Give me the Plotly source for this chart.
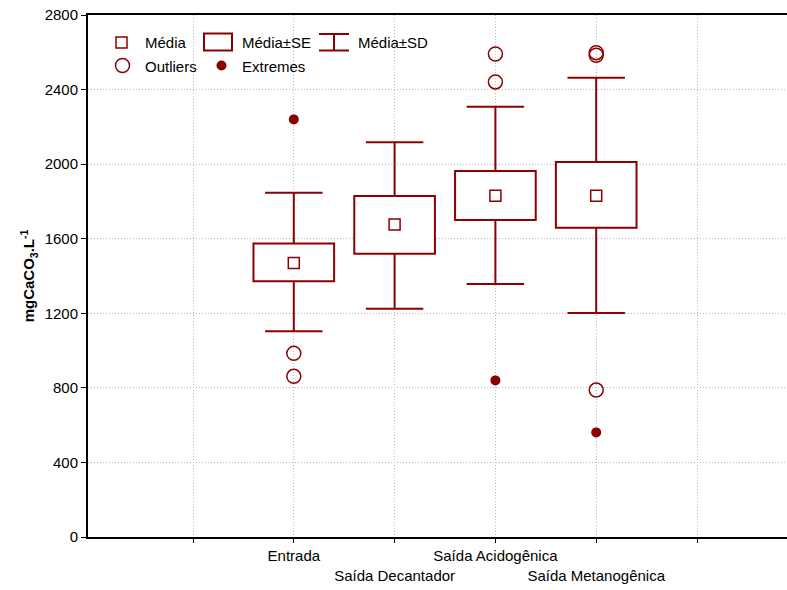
import plotly.graph_objects as go

# Alkalinity summary per sampling point (mg CaCO3/L)
categories = ["Entrada", "Saída Decantador", "Saída Acidogênica", "Saída Metanogênica"]
cat_pos = [2, 3, 4, 5]
mean_vals = [1470, 1676, 1831, 1831]
se_low = [1372, 1520, 1700, 1659]
se_high = [1575, 1829, 1963, 2011]
sd_low = [1103, 1225, 1357, 1201]
sd_high = [1847, 2117, 2308, 2464]

outlier_pos = [2, 2, 4, 4, 5, 5, 5]
outlier_vals = [985, 862, 2591, 2441, 2598, 2584, 788]
extreme_pos = [2, 4, 5]
extreme_vals = [2240, 840, 561]

y_ticks = [0, 400, 800, 1200, 1600, 2000, 2400, 2800]
x_ticks = [1, 2, 3, 4, 5, 6]

RED = "#8B0000"
FONT = "Liberation Sans, Arial, sans-serif"
BOX_HALF = 0.4      # half box width, x units
CAP_HALF = 0.285    # half whisker cap width, x units

W, H = 787, 590
ML, MR, MT, MB = 88, 0, 15, 53
PW, PH = W - ML - MR, H - MT - MB


def px(xp):
    return (xp - ML) / PW


def py(yp):
    return (H - MB - yp) / PH


# tick labels alternate between two rows
tick_text = [""]
for i, c in enumerate(categories):
    tick_text.append(c if i % 2 == 0 else "<br>" + c)
tick_text.append("")

fig = go.Figure()

fig.add_trace(go.Scatter(
    x=cat_pos, y=mean_vals, mode="markers", showlegend=False,
    marker=dict(symbol="square-open", size=11, color=RED,
                line=dict(color=RED, width=1.5)),
))

fig.add_trace(go.Scatter(
    x=outlier_pos, y=outlier_vals, mode="markers", showlegend=False,
    marker=dict(symbol="circle-open", size=14, color=RED,
                line=dict(color=RED, width=1.5)),
))

fig.add_trace(go.Scatter(
    x=extreme_pos, y=extreme_vals, mode="markers", showlegend=False,
    marker=dict(symbol="circle", size=10, color=RED, line=dict(width=0)),
))

shapes = []
line_style = dict(color=RED, width=2)
for xc, lo, hi, dlo, dhi in zip(cat_pos, se_low, se_high, sd_low, sd_high):
    # whiskers (mean±SD) with caps
    for a, b in ((hi, dhi), (lo, dlo)):
        shapes.append(dict(type="line", xref="x", yref="y", layer="between",
                           x0=xc, x1=xc, y0=a, y1=b, line=line_style))
        shapes.append(dict(type="line", xref="x", yref="y", layer="between",
                           x0=xc - CAP_HALF, x1=xc + CAP_HALF, y0=b, y1=b,
                           line=line_style))
    # mean±SE box
    shapes.append(dict(type="rect", xref="x", yref="y", layer="between",
                       x0=xc - BOX_HALF, x1=xc + BOX_HALF, y0=lo, y1=hi,
                       line=line_style, fillcolor="white"))

# Legend drawn by hand
anns = []
lw = 1.5
shapes.append(dict(type="rect", xref="paper", yref="paper",
                   x0=px(116), x1=px(127), y0=py(48), y1=py(37),
                   line=dict(color=RED, width=lw), fillcolor="white"))
shapes.append(dict(type="rect", xref="paper", yref="paper",
                   x0=px(204), x1=px(232), y0=py(50.5), y1=py(33.5),
                   line=dict(color=RED, width=2), fillcolor="white"))
shapes.append(dict(type="line", xref="paper", yref="paper",
                   x0=px(319), x1=px(349), y0=py(34), y1=py(34),
                   line=dict(color=RED, width=2)))
shapes.append(dict(type="line", xref="paper", yref="paper",
                   x0=px(319), x1=px(349), y0=py(50.5), y1=py(50.5),
                   line=dict(color=RED, width=2)))
shapes.append(dict(type="line", xref="paper", yref="paper",
                   x0=px(334), x1=px(334), y0=py(34), y1=py(50.5),
                   line=dict(color=RED, width=2)))
shapes.append(dict(type="circle", xref="paper", yref="paper",
                   x0=px(115.5), x1=px(129.5), y0=py(72.5), y1=py(58.5),
                   line=dict(color=RED, width=lw), fillcolor="white"))
shapes.append(dict(type="circle", xref="paper", yref="paper",
                   x0=px(216.5), x1=px(226.5), y0=py(70.5), y1=py(60.5),
                   line=dict(color=RED, width=0), fillcolor=RED))

legend_items = [("Média", 143, 42), ("Média±SE", 240, 42), ("Média±SD", 356, 42),
                ("Outliers", 143, 66), ("Extremes", 240, 66)]
for txt, xx, yy in legend_items:
    anns.append(dict(text=txt, xref="paper", yref="paper", x=px(xx), y=py(yy),
                     xanchor="left", yanchor="middle", showarrow=False,
                     font=dict(family=FONT, size=15, color="black")))

grid = dict(showgrid=True, gridcolor="#b8b8b8", griddash="1px,2px", gridwidth=1)

fig.update_layout(
    width=W, height=H,
    margin=dict(l=ML, r=MR, t=MT, b=MB, autoexpand=False),
    paper_bgcolor="white", plot_bgcolor="white",
    font=dict(family=FONT, size=15, color="black"),
    shapes=shapes, annotations=anns,
    xaxis=dict(
        range=[1 - 105 / 100.8, 6 + 90 / 100.8],
        tickmode="array", tickvals=x_ticks, ticktext=tick_text, tickangle=0,
        automargin=False,
        showline=True, linecolor="black", linewidth=2, mirror=True,
        ticks="outside", ticklen=4, tickcolor="black", tickwidth=1,
        zeroline=False, tickfont=dict(size=15), **grid,
    ),
    yaxis=dict(
        range=[0, 2800],
        tickmode="array", tickvals=y_ticks, automargin=False,
        showline=True, linecolor="black", linewidth=2, mirror=False,
        ticks="outside", ticklen=5, tickcolor="black", tickwidth=1,
        zeroline=False, tickfont=dict(size=15), **grid,
        title=dict(text="<b>mgCaCO<sub>3</sub>.L<sup>-1</sup></b>",
                   font=dict(size=15), standoff=6),
    ),
)

fig.write_html("out.html")
